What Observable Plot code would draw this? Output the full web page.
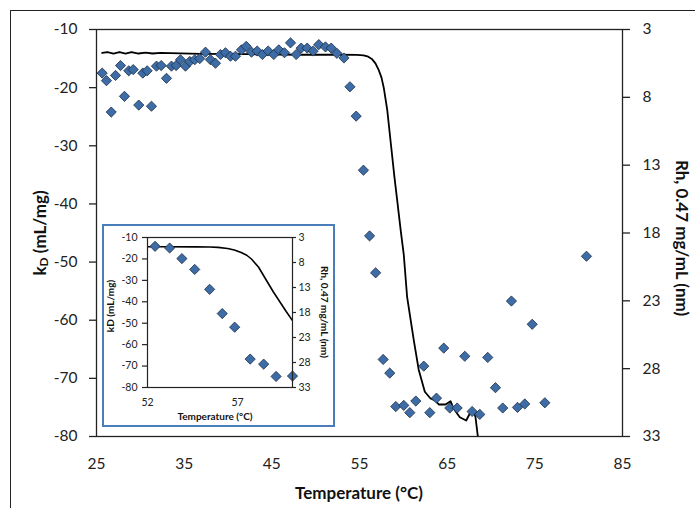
<!DOCTYPE html>
<html><head><meta charset="utf-8">
<script src="https://cdn.jsdelivr.net/npm/d3@7"></script>
<script src="https://cdn.jsdelivr.net/npm/@observablehq/plot@0.6"></script>
<style>
html,body{margin:0;padding:0;background:#fff;overflow:hidden;}
#wrap{position:relative;width:695px;height:508px;font-family:Lato,"Open Sans",sans-serif;}
#border{position:absolute;left:10px;top:10px;width:720px;height:600px;border:1.5px solid #222;}
#main{position:absolute;left:0;top:0;}
#inset{position:absolute;left:102px;top:224px;width:233px;height:203px;border:2px solid #4a7ebb;box-sizing:border-box;background:#fff;}
#inset svg{position:absolute;left:0;top:0;}
</style></head><body>
<div id="wrap"><div id="border"></div><div id="main"></div><div id="inset"></div></div>
<script>
// kD measurements (Temperature °C, kD mL/mg)
const kdTemp = [25.65,26.14,26.68,27.17,27.74,28.19,28.68,29.19,29.82,30.28,30.78,31.27,31.84,32.38,32.98,33.55,34.09,34.58,35.15,35.64,36.21,36.78,37.43,38.00,38.57,39.14,39.71,40.28,40.85,41.54,42.08,42.68,43.33,43.93,44.58,45.22,45.79,46.44,47.13,47.78,48.35,49.03,49.72,50.36,51.12,51.77,52.42,53.23,53.91,54.62,55.45,56.15,56.84,57.70,58.45,59.14,60.05,60.74,61.42,62.33,63.02,63.78,64.61,65.30,66.14,67.01,67.85,68.72,69.63,70.51,71.34,72.33,73.02,73.85,74.70,76.14,80.89];
const kdValue = [-17.5,-18.8,-24.2,-17.9,-16.2,-21.5,-17.1,-16.9,-23.0,-17.5,-17.1,-23.2,-16.3,-16.2,-18.4,-16.3,-16.2,-15.2,-16.3,-15.5,-15.2,-15.0,-13.9,-15.2,-15.8,-14.3,-14.0,-14.6,-14.6,-13.5,-12.9,-13.9,-13.7,-14.3,-13.7,-14.3,-13.5,-14.0,-12.3,-14.3,-13.2,-13.2,-13.7,-12.6,-13.0,-13.2,-14.1,-14.9,-19.85,-24.9,-34.2,-45.5,-51.85,-66.75,-69.1,-74.85,-74.65,-75.9,-73.9,-67.9,-75.9,-73.4,-64.8,-75.1,-75.1,-66.2,-75.7,-76.2,-66.4,-71.6,-75.1,-56.7,-75.0,-74.4,-60.7,-74.2,-49.0];

// Rh curve, 0.47 mg/mL (Temperature °C, Rh nm)
const rhTemp = [25.65,26.25,26.94,27.62,28.31,28.99,29.79,30.59,31.39,32.30,36.86,42.57,48.27,52.83,54.70,55.46,55.91,56.45,56.82,57.20,57.51,57.77,58.16,58.54,58.99,59.30,59.70,60.05,60.43,61.19,61.76,62.45,63.10,63.67,64.04,64.81,65.38,65.75,66.44,67.17,67.66,68.04,68.23,68.49,68.70];
const rhValue = [4.73,4.66,4.77,4.66,4.77,4.66,4.77,4.70,4.77,4.72,4.79,4.82,4.86,4.86,4.87,4.90,4.98,5.20,5.50,6.00,6.55,7.30,8.90,11.2,13.9,15.6,17.8,19.6,22.7,25.9,28.1,29.7,30.2,30.35,30.64,30.64,30.40,30.96,31.58,31.82,31.21,31.03,31.58,32.93,33.7];

// tick labels
const xTicks = [25,35,45,55,65,75,85];
const kdTicks = [-10,-20,-30,-40,-50,-60,-70,-80];
const rhTicks = [3,8,13,18,23,28,33];
const insetXTicks = [52,57];

const kdData = kdTemp.map((t,i)=>({t, v: kdValue[i]}));
const rhData = rhTemp.map((t,i)=>({t, r: rhValue[i]}));
// secondary axis: Rh 3 -> kD -10, Rh 33 -> kD -80
const rhToK = r => -10 - (r - 3) * 70 / 30;
const kToRh = k => Math.round(3 + (-10 - k) * 30 / 70);
const plain = d => String(d);

const dotStyle = {symbol:"diamond2", fill:"#3d6ca6", stroke:"#1c2d44", strokeWidth:0.8};

const main = Plot.plot({
  width: 695, height: 508,
  marginLeft: 96, marginRight: 73, marginTop: 29, marginBottom: 72,
  style: {fontFamily: "Lato, 'Open Sans', sans-serif", fontSize: "15.5px", color: "#222", background: "transparent", overflow: "visible"},
  x: {domain: [25, 85]},
  y: {domain: [-80, -10]},
  marks: [
    Plot.line(rhData, {x: "t", y: d => rhToK(d.r), stroke: "#000", strokeWidth: 1.8, clip: true}),
    Plot.dot(kdData, {x: "t", y: "v", r: 4.6, ...dotStyle}),
    Plot.frame({stroke: "#222", strokeWidth: 1.3}),
    Plot.axisX(xTicks, {tickSize: 0, tickPadding: 21, tickFormat: plain, label: null}),
    Plot.axisY(kdTicks, {anchor: "left", tickSize: 7, tickPadding: 12, strokeWidth: 1.3, tickFormat: plain, label: null}),
    Plot.axisY(rhTicks.map(rhToK), {anchor: "right", tickSize: 7, tickPadding: 13, strokeWidth: 1.3, tickFormat: d => String(kToRh(d)), label: null})
  ]
});
document.getElementById("main").appendChild(main);

const ms = d3.select(main);
const t1 = ms.append("text").attr("transform", "translate(39,233) rotate(-90)")
  .attr("text-anchor", "middle").attr("dominant-baseline", "central")
  .style("font-weight", "bold").style("font-size", "17px").attr("fill", "#111");
t1.append("tspan").text("k");
t1.append("tspan").text("D").attr("font-size", "12px").attr("dy", "4");
t1.append("tspan").text(" (mL/mg)").attr("dy", "-4");
ms.append("text").attr("x", 359).attr("y", 492).attr("text-anchor", "middle").attr("dominant-baseline", "central")
  .style("font-weight", "bold").style("font-size", "17px").attr("fill", "#111").text("Temperature (°C)");
ms.append("text").attr("transform", "translate(682,238) rotate(90)").attr("text-anchor", "middle").attr("dominant-baseline", "central")
  .style("font-weight", "bold").style("font-size", "17px").attr("fill", "#111").text("Rh, 0.47 mg/mL (nm)");

// inset zoom 52–60 °C
const inset = Plot.plot({
  width: 229, height: 199,
  marginLeft: 43, marginRight: 41, marginTop: 11, marginBottom: 38,
  style: {fontFamily: "Lato, 'Open Sans', sans-serif", fontSize: "10.5px", color: "#222", background: "transparent", overflow: "visible"},
  x: {domain: [52, 60.05]},
  y: {domain: [-80, -10]},
  marks: [
    Plot.line(rhData, {x: "t", y: d => rhToK(d.r), stroke: "#000", strokeWidth: 1.6, clip: true}),
    Plot.dot(kdData.filter(d => d.t >= 52 && d.t <= 60.1), {x: "t", y: "v", r: 4.6, ...dotStyle}),
    Plot.frame({stroke: "#222", strokeWidth: 1.2}),
    Plot.axisX(insetXTicks, {tickSize: 0, tickPadding: 11, tickFormat: plain, label: null}),
    Plot.axisY(kdTicks, {anchor: "left", tickSize: 5, tickPadding: 5, strokeWidth: 1.2, tickFormat: plain, label: null}),
    Plot.axisY(rhTicks.map(rhToK), {anchor: "right", tickSize: 3, tickPadding: 3, strokeWidth: 1.2, tickFormat: d => String(kToRh(d)), label: null})
  ]
});
document.getElementById("inset").appendChild(inset);
const is = d3.select(inset);
is.append("text").attr("transform", "translate(6,80) rotate(-90)").attr("text-anchor", "middle").attr("dominant-baseline", "central")
  .style("font-weight", "bold").style("font-size", "10px").attr("fill", "#111").text("kD (mL/mg)");
is.append("text").attr("x", 111).attr("y", 190).attr("text-anchor", "middle").attr("dominant-baseline", "central")
  .style("font-weight", "bold").style("font-size", "10px").attr("fill", "#111").text("Temperature (°C)");
is.append("text").attr("transform", "translate(221,86) rotate(90)").attr("text-anchor", "middle").attr("dominant-baseline", "central")
  .style("font-weight", "bold").style("font-size", "10px").attr("fill", "#111").text("Rh, 0.47 mg/mL (nm)");
</script>
</body></html>
